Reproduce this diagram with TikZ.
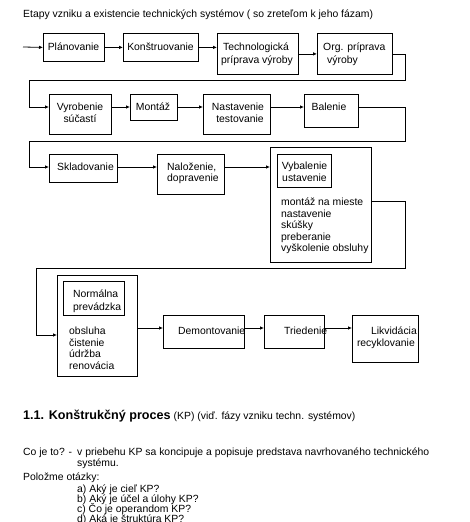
\documentclass[tikz,border=0pt]{standalone}
\usepackage{fontspec}
\setmainfont{Liberation Sans}
\usetikzlibrary{arrows.meta,calc}
\begin{document}
\begin{tikzpicture}[x=1pt,y=-1pt,
  box/.style={draw, line width=0.8pt, inner sep=0pt, anchor=north west},
  t/.style={inner sep=0pt, font=\fontsize{10.4}{12}\selectfont},
  conn/.style={line width=0.8pt, -{Latex[length=4pt,width=3.6pt]}},
  ln/.style={line width=0.8pt}
]
\useasboundingbox (0,0) rectangle (469,522);
\clip (0,0) rectangle (469,522);
\fill[white] (0,0) rectangle (469,522);

% boxes
\node[box, minimum width=61pt, minimum height=28pt] (plan) at (43,33) {};
\node[box, minimum width=75pt, minimum height=28pt] (konst) at (123,33) {};
\node[box, minimum width=81pt, minimum height=41pt] (tech) at (217,33) {};
\node[box, minimum width=75pt, minimum height=41pt] (org) at (317,33) {};
\node[box, minimum width=62pt, minimum height=40pt] (vyr) at (49,94) {};
\node[box, minimum width=47pt, minimum height=26pt] (mont) at (130,94) {};
\node[box, minimum width=67pt, minimum height=40pt] (nast) at (203,94) {};
\node[box, minimum width=54pt, minimum height=33pt] (bal) at (304,94) {};
\node[box, minimum width=68pt, minimum height=28pt] (skl) at (49,154) {};
\node[box, minimum width=67pt, minimum height=40pt] (nal) at (157,154) {};
\node[box, minimum width=101pt, minimum height=115pt] (vyb) at (270,147) {};
\node[box, minimum width=54pt, minimum height=33pt] (vybin) at (277,154) {};
\node[box, minimum width=80pt, minimum height=101pt] (norm) at (57,275) {};
\node[box, minimum width=61pt, minimum height=34pt] (normin) at (63,281) {};
\node[box, minimum width=81pt, minimum height=33pt] (dem) at (163,315) {};
\node[box, minimum width=60pt, minimum height=33pt] (tri) at (264,315) {};
\node[box, minimum width=66pt, minimum height=47pt] (lik) at (352,315) {};

% coordinates for connectors
\coordinate (s0) at (23,47);
\coordinate (c1) at (405,80);
\coordinate (c2) at (29,80);
\coordinate (vyrin) at ($(vyr.north west)+(0,13)$);
\coordinate (c3) at (405,141);
\coordinate (c4) at (29,141);
\coordinate (skin) at ($(skl.north west)+(0,13)$);
\coordinate (vybout) at ($(vyb.north east)+(0,54)$);
\coordinate (c5) at (405,268);
\coordinate (c6) at (36,268);
\coordinate (normarr) at ($(norm.north west)+(0,60)$);
\coordinate (normout) at ($(norm.north east)+(0,53)$);

% connectors
\draw[conn] (s0) -- (plan.west);
\draw[conn] (plan.east) -- (konst.west);
\draw[conn] (konst.east) -- (konst.east -| tech.west);
\draw[conn] (tech.east |- org.west) -- (org.west);
\draw[conn] (org.east) -| (c1) -- (c2) |- (vyrin);
\draw[conn] (vyrin -| vyr.east) -- (vyrin -| mont.west);
\draw[conn] (vyrin -| mont.east) -- (vyrin -| nast.west);
\draw[conn] (vyrin -| nast.east) -- (vyrin -| bal.west);
\draw[conn] (vyrin -| bal.east) -| (c3) -- (c4) |- (skin);
\draw[conn] (skin -| skl.east) -- (skin -| nal.west);
\draw[conn] (skin -| nal.east) -- (skin -| vyb.west);
\draw[conn] (vybout) -| (c5) -- (c6) |- (normarr);
\draw[conn] (normout) -- (normout -| dem.west);
\draw[conn] (normout -| dem.east) -- (normout -| tri.west);
\draw[conn] (normout -| tri.east) -- (normout -| lik.west);

% title
\node[t, anchor=base west] (title) at (23,17.5) {Etapy vzniku a existencie technických systémov ( so zreteľom k jeho fázam)};

% box texts
\node[t, anchor=base] (tplan) at (73.5,50.5) {Plánovanie};
\node[t, anchor=base] (tkonst) at (160.5,50.5) {Konštruovanie};
\node[t, anchor=base] (ttech1) at (256,50.5) {Technologická};
\node[t, anchor=base] (ttech2) at (257,63.5) {príprava výroby};
\node[t, anchor=base west] (torg1) at (323,50.5) {Org. príprava};
\node[t, anchor=base west] (torg2) at (327,63.5) {výroby};
\node[t, anchor=base] (tvyr1) at (80,110.5) {Vyrobenie};
\node[t, anchor=base] (tvyr2) at (80,122) {súčastí};
\node[t, anchor=base] (tmont) at (153,110.5) {Montáž};
\node[t, anchor=base] (tnast1) at (238,110.5) {Nastavenie};
\node[t, anchor=base] (tnast2) at (240,122) {testovanie};
\node[t, anchor=base] (tbal) at (329,110.5) {Balenie};
\node[t, anchor=base] (tskl) at (85.5,170.5) {Skladovanie};
\node[t, anchor=base west] (tnal1) at (167,170.5) {Naloženie,};
\node[t, anchor=base west] (tnal2) at (167,181.5) {dopravenie};
\node[t, anchor=base] (tvyb1) at (304.5,169.5) {Vybalenie};
\node[t, anchor=base] (tvyb2) at (304.5,181.5) {ustavenie};
\node[t, anchor=base west] (tl1) at (281,205.5) {montáž na mieste};
\node[t, anchor=base west] (tl2) at (281,217) {nastavenie};
\node[t, anchor=base west] (tl3) at (281,228.5) {skúšky};
\node[t, anchor=base west] (tl4) at (281,240) {preberanie};
\node[t, anchor=base west] (tl5) at (281,251.5) {vyškolenie obsluhy};
\node[t, anchor=base west] (tnorm1) at (73,297.5) {Normálna};
\node[t, anchor=base west] (tnorm2) at (73,310.5) {prevádzka};
\node[t, anchor=base west] (tm1) at (69,334.5) {obsluha};
\node[t, anchor=base west] (tm2) at (69,346) {čistenie};
\node[t, anchor=base west] (tm3) at (69,357.5) {údržba};
\node[t, anchor=base west] (tm4) at (69,369.5) {renovácia};
\node[t, anchor=base west] (tdem) at (178,334.5) {Demontovanie};
\node[t, anchor=base west] (ttri) at (284,334.5) {Triedenie};
\node[t, anchor=base east] (tlik1) at (417,334.5) {Likvidácia};
\node[t, anchor=base east] (tlik2) at (415,346) {recyklovanie};

% bottom text
\node[inner sep=0pt, anchor=base west, font=\fontsize{12.6}{15}\selectfont\bfseries] (head) at (23,419.5) {1.1. Konštrukčný proces};
\node[inner sep=0pt, anchor=base west, font=\fontsize{10.4}{12}\selectfont] (headp) at (173.5,419.5) {(KP) (viď. fázy vzniku techn. systémov)};
\node[t, anchor=base west] (co) at (23,455.5) {Co je to? -};
\node[t, anchor=base west] (co2) at (77,455.5) {v priebehu KP sa koncipuje a popisuje predstava navrhovaného technického};
\node[t, anchor=base west] (co3) at (77,466.5) {systému.};
\node[t, anchor=base west] (pol) at (23,480.5) {Položme otázky:};
\node[t, anchor=base west] (qa) at (77,492.5) {a) Aký je cieľ KP?};
\node[t, anchor=base west] (qb) at (77,502.5) {b) Aký je účel a úlohy KP?};
\node[t, anchor=base west] (qc) at (77,512.5) {c) Čo je operandom KP?};
\node[t, anchor=base west] (qd) at (77,522.5) {d) Aká je štruktúra KP?};
\end{tikzpicture}
\end{document}
